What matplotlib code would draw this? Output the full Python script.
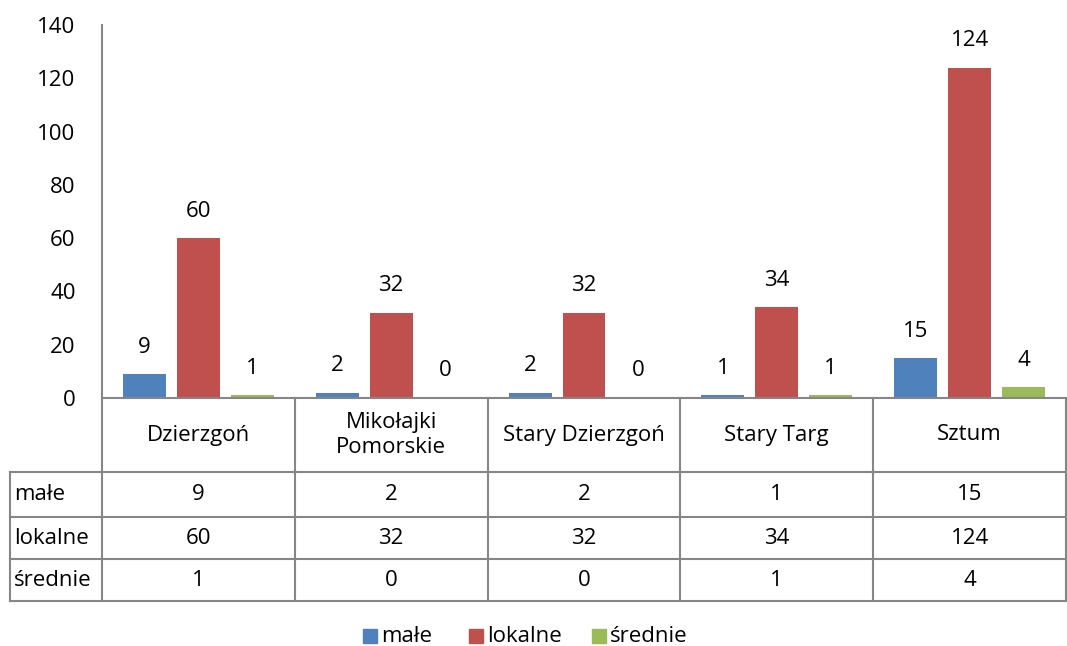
import numpy as np
import matplotlib.pyplot as plt
from matplotlib.patches import Rectangle

plt.rcParams['font.family'] = ['Open Sans', 'DejaVu Sans']

categories = ['Dzierzgoń', 'Mikołajki\nPomorskie', 'Stary Dzierzgoń', 'Stary Targ', 'Sztum']
series_names = ['małe', 'lokalne', 'średnie']
male = [9, 2, 2, 1, 15]
lokalne = [60, 32, 32, 34, 124]
srednie = [1, 0, 0, 1, 4]
colors = ['#4F81BD', '#C0504D', '#9BBB59']
yticks = [0, 20, 40, 60, 80, 100, 120, 140]

W, H = 1067, 646
fig = plt.figure(figsize=(W / 100, H / 100), dpi=100)

# pixel layout
x0, x1 = 102, 1066
y_zero, y_top = 398, 25
ax = fig.add_axes([x0 / W, 1 - y_zero / H, (x1 - x0) / W, (y_zero - y_top) / H])

grey = '#868686'
fs = 16
series = [male, lokalne, srednie]
n = len(categories)
x = np.arange(n)
step = 0.28
width = 0.223
for i, (vals, c) in enumerate(zip(series, colors)):
    pos = x + (i - 1) * step
    ax.bar(pos, vals, width=width, color=c, zorder=2)
    for p, v in zip(pos, vals):
        ax.annotate(str(v), (p, v), xytext=(0, 27), textcoords='offset pixels',
                    ha='center', va='center', fontsize=fs)

ax.set_xlim(-0.5, n - 0.5)
ax.set_ylim(0, 140)
ax.set_yticks(yticks)
ax.set_yticklabels([str(t) for t in yticks], fontsize=fs)
ax.tick_params(axis='y', length=0, pad=19)
ax.set_xticks([])
for s in ['top', 'right']:
    ax.spines[s].set_visible(False)
for s in ['left', 'bottom']:
    ax.spines[s].set_color(grey)
    ax.spines[s].set_linewidth(1.5)

# data table drawn in pixel coordinates
ov = fig.add_axes([0, 0, 1, 1])
ov.set_xlim(0, W)
ov.set_ylim(H, 0)
ov.axis('off')

col_edges = np.linspace(x0, x1, n + 1)
row_edges = [472, 517, 559, 601]
lbl_left = 10
lw = 1.5
for ce in col_edges:
    ov.plot([ce, ce], [y_zero, row_edges[-1]], color=grey, lw=lw)
ov.plot([lbl_left, lbl_left], [row_edges[0], row_edges[-1]], color=grey, lw=lw)
for re in row_edges:
    ov.plot([lbl_left, x1], [re, re], color=grey, lw=lw)

centers = (col_edges[:-1] + col_edges[1:]) / 2
for cx, cat in zip(centers, categories):
    ov.text(cx, (y_zero + row_edges[0]) / 2, cat, ha='center', va='center',
            fontsize=fs, linespacing=1.2)
for r, (name, vals) in enumerate(zip(series_names, series)):
    cy = (row_edges[r] + row_edges[r + 1]) / 2
    ov.text(lbl_left + 4, cy, name, ha='left', va='center', fontsize=fs)
    for cx, v in zip(centers, vals):
        ov.text(cx, cy, str(v), ha='center', va='center', fontsize=fs)

# legend
leg_x = [363, 469, 592]
leg_y = 636
for lx, name, c in zip(leg_x, series_names, colors):
    ov.add_patch(Rectangle((lx, leg_y - 7), 14, 14, color=c))
    ov.text(lx + 18, leg_y, name, ha='left', va='center', fontsize=fs)

fig.savefig('out.png', dpi=100)
